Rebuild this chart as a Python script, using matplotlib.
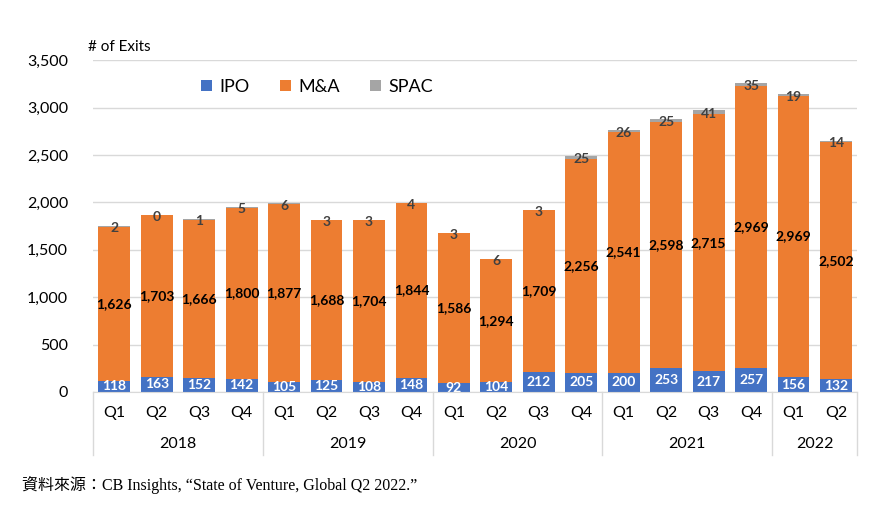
import matplotlib
matplotlib.use("Agg")
import matplotlib.pyplot as plt
import numpy as np

quarters = ["Q1", "Q2", "Q3", "Q4"] * 4 + ["Q1", "Q2"]
years = ["2018", "2019", "2020", "2021", "2022"]
year_counts = [4, 4, 4, 4, 2]
ipo = [118, 163, 152, 142, 105, 125, 108, 148, 92, 104, 212, 205, 200, 253, 217, 257, 156, 132]
mna = [1626, 1703, 1666, 1800, 1877, 1688, 1704, 1844, 1586, 1294, 1709, 2256, 2541, 2598, 2715, 2969, 2969, 2502]
spac = [2, 0, 1, 5, 6, 3, 3, 4, 3, 6, 3, 25, 26, 25, 41, 35, 19, 14]
yticks = [0, 500, 1000, 1500, 2000, 2500, 3000, 3500]

FONT = "Lato"
plt.rcParams["font.family"] = [FONT, "DejaVu Sans"]

fig = plt.figure(figsize=(8.72, 5.05), dpi=100)
ax = fig.add_axes([0.1067, 0.2238, 0.983 - 0.1067, 0.881 - 0.2238])

x = np.arange(len(ipo))
ipo_a = np.array(ipo)
mna_a = np.array(mna)
spac_a = np.array(spac)
w = 0.75
c_ipo, c_mna, c_spac = "#4472C4", "#ED7D31", "#A5A5A5"
b1 = ax.bar(x, ipo_a, w, color=c_ipo, label="IPO", zorder=3)
b2 = ax.bar(x, mna_a, w, bottom=ipo_a, color=c_mna, label="M&A", zorder=3)
b3 = ax.bar(x, spac_a, w, bottom=ipo_a + mna_a, color=c_spac, label="SPAC", zorder=3)

for i in range(len(x)):
    ax.text(x[i], ipo_a[i] / 2, f"{ipo[i]:,}", ha="center", va="center", color="white",
            fontsize=10, fontweight="bold", zorder=4)
    ax.text(x[i], ipo_a[i] + mna_a[i] / 2, f"{mna[i]:,}", ha="center", va="center", color="black",
            fontsize=10, fontweight="bold", zorder=4)
    ax.text(x[i], ipo_a[i] + mna_a[i] + spac_a[i] / 2 - 20, f"{spac[i]:,}", ha="center", va="center",
            color="#404040", fontsize=10, fontweight="bold", zorder=4)

ax.set_xlim(-0.5, len(x) - 0.5)
ax.set_ylim(0, 3500)
ax.set_yticks(yticks)
ax.set_yticklabels([f"{v:,}" for v in yticks], fontsize=11.5)
ax.yaxis.grid(True, color="#D9D9D9", linewidth=1, zorder=0)
ax.tick_params(axis="y", length=0, pad=18)
ax.tick_params(axis="x", length=0)
ax.set_xticks([])
for s in ["top", "right", "left"]:
    ax.spines[s].set_visible(False)
ax.spines["bottom"].set_color("#D9D9D9")
ax.spines["bottom"].set_zorder(5)

trans = ax.get_xaxis_transform()
for i, q in enumerate(quarters):
    ax.text(i, -0.063, q, transform=trans, ha="center", va="center", fontsize=11.5)
start = 0
bounds = [-0.5]
for y, n in zip(years, year_counts):
    ax.text(start + (n - 1) / 2, -0.157, y, transform=trans, ha="center", va="center", fontsize=11.5)
    start += n
    bounds.append(start - 0.5)
for b in bounds:
    ax.plot([b, b], [0, -0.19], transform=trans, color="#D9D9D9", linewidth=1, clip_on=False)

fig.text(88 / 872, 1 - 47 / 505, "# of Exits", fontsize=11, ha="left", va="center")

leg = ax.legend(loc="center left", bbox_to_anchor=(0.12, 0.92), ncol=3, frameon=False,
                fontsize=13, handlelength=0.6, handleheight=0.6, columnspacing=1.7, handletextpad=0.4)

fig.text(22 / 872, 1 - 485 / 505, "資料來源：CB Insights, “State of Venture, Global Q2 2022.”",
         fontsize=11.5, ha="left", va="center", family=["Liberation Serif", "Noto Sans CJK TC"])

fig.savefig("out.png", dpi=100)
